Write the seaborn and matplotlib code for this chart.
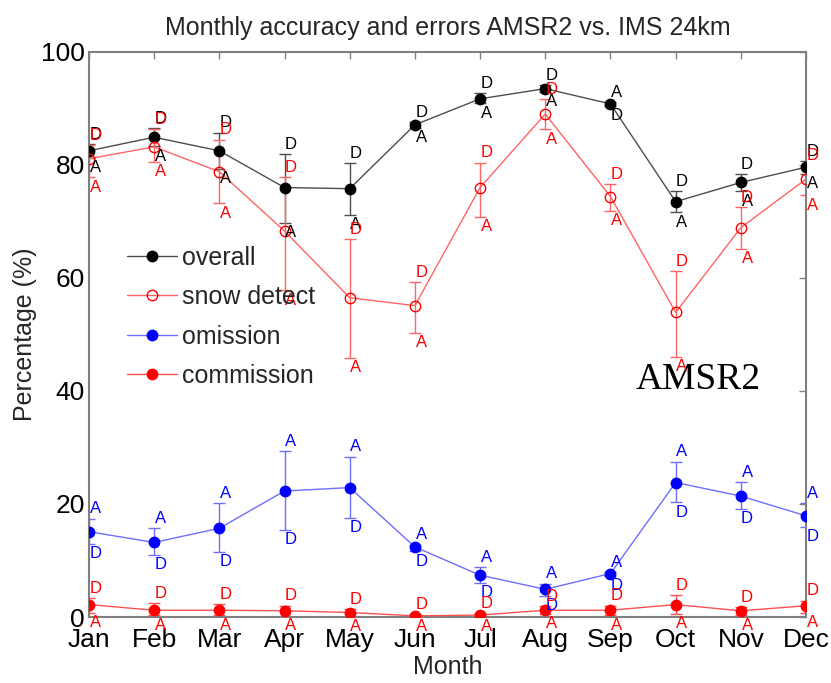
import numpy as np
import pandas as pd
import seaborn as sns
import matplotlib.pyplot as plt

# Month labels
months = ['Jan', 'Feb', 'Mar', 'Apr', 'May', 'Jun', 'Jul', 'Aug', 'Sep', 'Oct', 'Nov', 'Dec']

# Overall accuracy (mean, ascending, descending)
overall = [82.5, 84.9, 82.5, 76.0, 75.8, 87.1, 91.7, 93.5, 90.8, 73.5, 76.9, 79.6]
overall_A = [81.2, 83.3, 79.3, 69.8, 71.2, 86.6, 90.9, 92.9, 91.1, 71.6, 75.3, 78.4]
overall_D = [83.7, 86.5, 85.7, 81.9, 80.3, 87.6, 92.7, 94.1, 90.5, 75.3, 78.4, 80.7]

# Snow detection
snow = [81.1, 83.2, 78.8, 68.3, 56.5, 55.1, 76.0, 89.0, 74.4, 53.9, 68.9, 77.5]
snow_A = [77.8, 80.5, 73.2, 57.8, 45.8, 50.3, 70.8, 86.3, 71.8, 46.1, 65.2, 74.6]
snow_D = [83.5, 86.3, 84.5, 77.9, 66.9, 59.2, 80.4, 91.7, 76.6, 61.2, 72.6, 80.0]

# Omission errors
omission = [15.1, 13.2, 15.7, 22.3, 22.9, 12.4, 7.4, 4.9, 7.7, 23.8, 21.4, 17.9]
omission_A = [17.4, 15.7, 20.1, 29.4, 28.4, 12.8, 8.8, 5.9, 8.0, 27.5, 23.9, 20.1]
omission_D = [12.9, 11.0, 11.5, 15.4, 17.6, 11.6, 6.1, 3.8, 7.3, 20.3, 19.1, 15.9]

# Commission errors
commission = [2.2, 1.2, 1.2, 1.1, 0.8, 0.2, 0.35, 1.2, 1.2, 2.2, 1.1, 2.0]
commission_A = [0.7, 0.3, 0.3, 0.2, 0.1, 0.0, 0.0, 0.6, 0.3, 0.6, 0.3, 0.8]
commission_D = [3.4, 2.4, 2.3, 2.0, 1.4, 0.5, 0.7, 1.9, 2.0, 3.9, 1.7, 2.9]

sns.set_theme(style='white')
plt.rcParams['font.family'] = ['Liberation Sans', 'DejaVu Sans']

fig, ax = plt.subplots(figsize=(8.31, 6.83), dpi=100)
fig.subplots_adjust(left=0.107, right=0.970, bottom=0.0966, top=0.924)

x = np.arange(len(months))

# name, mean, A, D, line colour, marker colour, filled marker
series = [
    ('overall', overall, overall_A, overall_D, '#4d4d4d', 'black', True),
    ('snow detect', snow, snow_A, snow_D, '#ff6464', 'red', False),
    ('omission', omission, omission_A, omission_D, '#6e6eff', 'blue', True),
    ('commission', commission, commission_A, commission_D, '#ff5050', 'red', True),
]

for name, mean, a, d, lc, mc, filled in series:
    mean = np.array(mean)
    a = np.array(a)
    d = np.array(d)
    lo = np.minimum(a, d)
    hi = np.maximum(a, d)
    ax.errorbar(x, mean, yerr=[mean - lo, hi - mean], fmt='none', ecolor=lc,
                elinewidth=1, capsize=4, capthick=1, zorder=2)
    df = pd.DataFrame({'m': x, 'v': mean})
    sns.lineplot(data=df, x='m', y='v', ax=ax, color=lc, lw=1, marker='o',
                 ms=7.5, mfc=mc if filled else 'none', mec=mc, mew=1,
                 label=name, zorder=3)
    for i in range(len(x)):
        for letter, val, other in (('A', a[i], d[i]), ('D', d[i], a[i])):
            up = val >= other
            ax.annotate(letter, (x[i], val), xytext=(4.5, 7 if up else -7),
                        textcoords='offset points', ha='center', va='center',
                        fontsize=12, color=mc, zorder=4)

ax.text(9.34, 42.0, 'AMSR2', fontsize=27, family='Liberation Serif',
        ha='center', va='center', color='black')

ax.set_xlim(0, 11)
ax.set_ylim(0, 100)
ax.set_xticks(x, months)
ax.set_yticks([0, 20, 40, 60, 80, 100])
ax.tick_params(axis='both', direction='in', top=True, right=True, length=5,
               width=1, colors='#808080', labelcolor='black', labelsize=19)
ax.tick_params(axis='x', pad=8)
ax.tick_params(axis='y', pad=3)
for s in ax.spines.values():
    s.set_color('#808080')
    s.set_linewidth(1.5)

ax.set_xlabel('Month', fontsize=18, labelpad=2)
ax.set_ylabel('Percentage (%)', fontsize=18, labelpad=3)
ax.set_title('Monthly accuracy and errors AMSR2 vs. IMS 24km', fontsize=18, pad=12)

ax.legend(loc='center left', bbox_to_anchor=(0.053, 0.531), frameon=False,
          fontsize=18, handlelength=2.0, handletextpad=0.2, labelspacing=0.62,
          borderpad=0, borderaxespad=0)

fig.savefig('out.png', dpi=100)
